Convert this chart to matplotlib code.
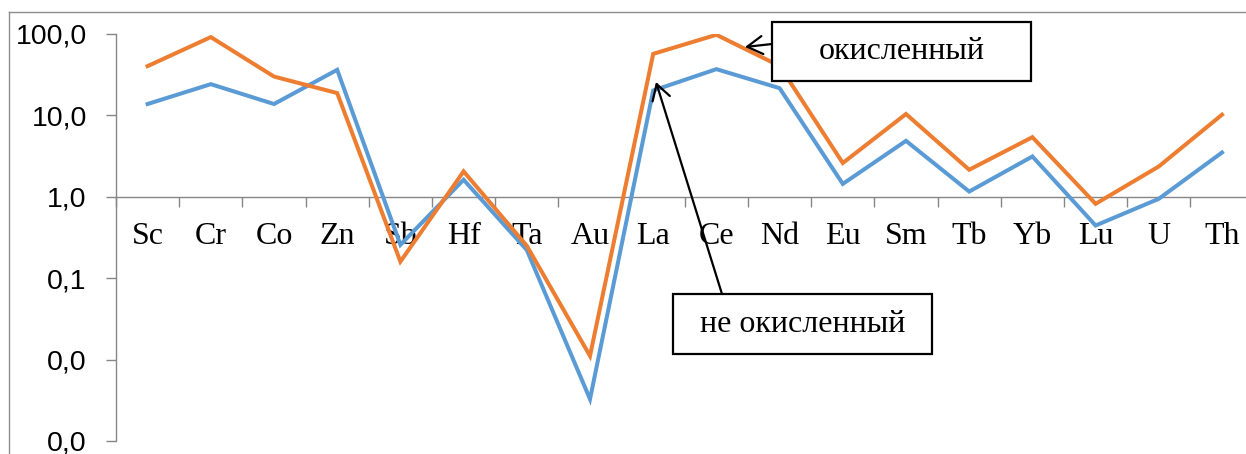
import matplotlib
matplotlib.use("Agg")
import matplotlib.pyplot as plt
from matplotlib.patches import Rectangle, FancyArrowPatch
from matplotlib.lines import Line2D
from matplotlib.ticker import FixedLocator, NullFormatter

# Elements along the horizontal axis
elements = ["Sc", "Cr", "Co", "Zn", "Sb", "Hf", "Ta", "Au", "La", "Ce",
            "Nd", "Eu", "Sm", "Tb", "Yb", "Lu", "U", "Th"]

# Normalised contents, oxidised sample
oxidised = [40.3, 91.6, 30.0, 18.8, 0.16, 2.05, 0.25, 0.0111, 57.0, 97.8,
            40.5, 2.6, 10.4, 2.15, 5.4, 0.82, 2.36, 10.2]

# Normalised contents, non-oxidised sample
non_oxidised = [13.8, 24.2, 13.8, 36.3, 0.257, 1.62, 0.222, 0.00327, 20.2, 37.0,
                21.6, 1.44, 4.87, 1.16, 3.13, 0.444, 0.945, 3.5]

# Logarithmic axis ticks and their labels
y_ticks = [0.001, 0.01, 0.1, 1, 10, 100]
y_tick_labels = ["0,0", "0,0", "0,1", "1,0", "10,0", "100,0"]

label_oxidised = "окисленный"
label_non_oxidised = "не окисленный"

W, H = 1246, 454
DPI = 100
fig = plt.figure(figsize=(W / DPI, H / DPI), dpi=DPI)
fig.patch.set_facecolor("white")


def fx(px):
    return px / W


def fy(py):
    return (H - py) / H


# Chart-area frame (top and left edges visible)
frame_col = "#8c8c8c"
fig.add_artist(Line2D([fx(9), fx(9)], [fy(12), 0], color=frame_col, lw=1.0))
fig.add_artist(Line2D([fx(9), 1], [fy(12), fy(12)], color=frame_col, lw=1.0))

ax = fig.add_axes([fx(116), fy(441), (W - 116) / W, (441 - 34) / H])
x = list(range(len(elements)))

blue = "#5B9BD5"
orange = "#ED7D31"
ax.plot(x, non_oxidised, color=blue, lw=2.9, solid_joinstyle="miter", zorder=3)
ax.plot(x, oxidised, color=orange, lw=2.9, solid_joinstyle="miter", zorder=3)

ax.set_yscale("log")
ax.set_ylim(0.001, 100)
step_px = 63.2
ax.set_xlim(-0.5, -0.5 + (W - 116) / step_px)

axis_col = "#868686"
for s in ["top", "right"]:
    ax.spines[s].set_visible(False)
ax.spines["left"].set_color(axis_col)
ax.spines["left"].set_linewidth(1.0)
ax.spines["bottom"].set_color(axis_col)
ax.spines["bottom"].set_linewidth(1.0)
ax.spines["bottom"].set_position(("data", 1))

# y axis
ax.yaxis.set_major_locator(FixedLocator(y_ticks))
ax.yaxis.set_minor_locator(FixedLocator([]))
ax.set_yticklabels(y_tick_labels)
ax.tick_params(axis="y", which="major", direction="out", length=7, width=1.0,
               color=axis_col, pad=14, labelsize=20.5, labelcolor="black")
for t in ax.get_yticklabels():
    t.set_fontfamily("Liberation Sans")

# x axis: labels at category centres, tick marks between categories
ax.xaxis.set_major_locator(FixedLocator(x))
ax.set_xticklabels(elements)
ax.xaxis.set_minor_locator(FixedLocator([i - 0.5 for i in range(len(elements) + 1)]))
ax.xaxis.set_minor_formatter(NullFormatter())
ax.tick_params(axis="x", which="major", length=0, pad=18, labelsize=23,
               labelcolor="black")
ax.tick_params(axis="x", which="minor", direction="out", length=7, width=1.0,
               color=axis_col)
for t in ax.get_xticklabels():
    t.set_fontfamily("Liberation Serif")


# Callout boxes with arrows
def callout(text, box, start, tip):
    x0, y0, x1, y1 = box
    fig.add_artist(Rectangle((fx(x0), fy(y1)), fx(x1) - fx(x0), fy(y0) - fy(y1),
                             facecolor="white", edgecolor="black", lw=1.6, zorder=5))
    fig.text(fx((x0 + x1) / 2), fy((y0 + y1) / 2), text, ha="center", va="center",
             fontsize=23, family="Liberation Serif", zorder=6)
    fig.add_artist(FancyArrowPatch(
        (fx(start[0]), fy(start[1])), (fx(tip[0]), fy(tip[1])),
        transform=fig.transFigure, arrowstyle="->,head_length=11,head_width=6.5",
        color="black", lw=1.6, shrinkA=0, shrinkB=0, zorder=6))


callout(label_oxidised, (772, 22, 1031, 81), (772, 44), (745, 47))
callout(label_non_oxidised, (673, 294, 932, 354), (722, 294), (656, 82))

fig.savefig("out.png", dpi=DPI, facecolor="white")
